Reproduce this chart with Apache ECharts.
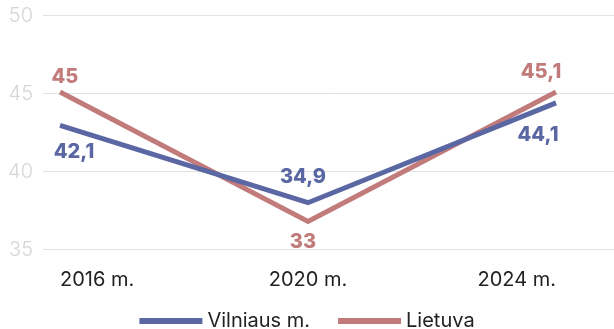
<!DOCTYPE html>
<html><head><meta charset="utf-8">
<script src="https://cdn.jsdelivr.net/npm/echarts@6/dist/echarts.min.js"></script>
<style>html,body{margin:0;padding:0;background:#fff}#c{width:614px;height:329px}</style>
</head><body><div id="c"></div>
<script>
var categories = ["2016 m.", "2020 m.", "2024 m."];
var vilniusValues = [42.95, 38.0, 44.4];
var vilniusLabels = ["42,1", "34,9", "44,1"];
var lietuvaValues = [45.1, 36.8, 45.1];
var lietuvaLabels = ["45", "33", "45,1"];
var yTicks = [35, 40, 45, 50];

var BLUE = '#5a67a3', ROSE = '#c27b7b';
var FONT = 'Inter';
var vilLabelPos = [{position:'bottom', offset:[14,12]}, {position:'top', offset:[-5,-11]}, {position:'bottom', offset:[-18,17]}];
var lieLabelPos = [{position:'top', offset:[5,0]}, {position:'bottom', offset:[-5,6]}, {position:'top', offset:[-15,-5]}];

function build(vals, texts, pos, color){
  return vals.map(function(v,i){
    return {value:v, label:{show:true, formatter:texts[i], position:pos[i].position, offset:pos[i].offset,
      color:color, fontFamily:FONT, fontWeight:800, fontSize:20}};
  });
}

var chart = echarts.init(document.getElementById('c'));
chart.setOption({
  animation:false,
  grid:[{left:60,right:58,top:15.5,bottom:79.5},{left:43,right:0,top:15.5,bottom:79.5}],
  legend:{data:['Vilniaus m.','Lietuva'], top:306, left:'center', icon:'rect', itemWidth:63, itemHeight:6, itemGap:28,
    textStyle:{fontFamily:FONT, fontSize:20, color:'#222'}},
  xAxis:[
    {type:'category', data:categories, boundaryGap:false, gridIndex:0,
     axisLine:{show:false}, axisTick:{show:false}, splitLine:{show:false},
     axisLabel:{fontFamily:FONT, fontSize:20, color:'#222', margin:20, alignMinLabel:'left', alignMaxLabel:'right'}},
    {type:'value', gridIndex:1, show:false}
  ],
  yAxis:[
    {type:'value', gridIndex:0, min:yTicks[0], max:yTicks[yTicks.length-1], interval:5, show:false},
    {type:'value', gridIndex:1, min:yTicks[0], max:yTicks[yTicks.length-1], interval:5,
     axisLine:{show:false}, axisTick:{show:false},
     splitLine:{lineStyle:{color:'#e2e2e2', width:1}},
     axisLabel:{fontFamily:FONT, fontSize:20, fontWeight:300, color:'#d6d6d6', margin:10}}
  ],
  series:[
    {name:'Vilniaus m.', type:'line', xAxisIndex:0, yAxisIndex:0, data:build(vilniusValues, vilniusLabels, vilLabelPos, BLUE),
     symbol:'circle', symbolSize:0, showSymbol:true, color:BLUE, lineStyle:{width:5, color:BLUE, join:'miter', cap:'butt'}, z:3},
    {name:'Lietuva', type:'line', xAxisIndex:0, yAxisIndex:0, data:build(lietuvaValues, lietuvaLabels, lieLabelPos, ROSE),
     symbol:'circle', symbolSize:0, showSymbol:true, color:ROSE, lineStyle:{width:5, color:ROSE, join:'miter', cap:'butt'}, z:2}
  ]
});
</script></body></html>
